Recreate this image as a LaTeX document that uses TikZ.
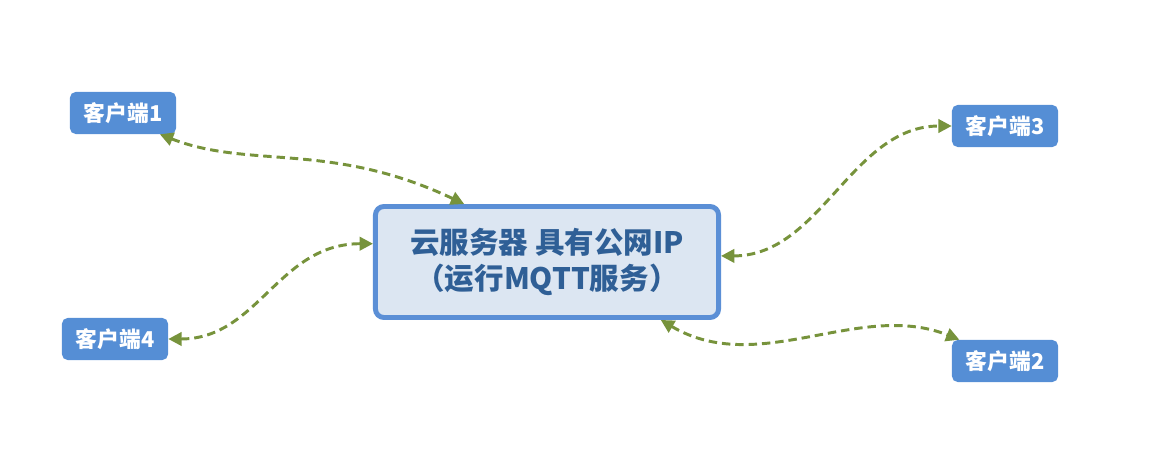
\documentclass[tikz,border=0pt]{standalone}
\usepackage{fontspec}
\setmainfont{Noto Sans CJK SC}
\usepackage{xcolor}
\usepackage{tikz}
\usetikzlibrary{arrows.meta}

\definecolor{clientblue}{HTML}{558ED5}
\definecolor{serverfill}{HTML}{DCE6F2}
\definecolor{serverline}{HTML}{5B8FD6}
\definecolor{servertext}{HTML}{2F5F96}
\definecolor{linkgreen}{HTML}{77933C}

\begin{document}
\begin{tikzpicture}[
    x=0.025cm, y=-0.025cm,
    client/.style={fill=clientblue, rounded corners=4pt, text=white, align=center, minimum width=2.65cm, minimum height=1.05cm, inner sep=0pt, font=\fontsize{15.5}{17}\selectfont\bfseries},
    server/.style={draw=serverline, line width=3.5pt, rounded corners=6pt, fill=serverfill, text=servertext, align=center, minimum width=8.575cm, minimum height=2.775cm, font=\fontsize{21}{26}\selectfont\bfseries},
    link/.style={{Triangle[length=9.5pt,width=9.5pt]}-{Triangle[length=9.5pt,width=9.5pt]}, draw=linkgreen, line width=2.1pt, dash pattern=on 6pt off 3.5pt}
]
\useasboundingbox (0,0) rectangle (1158,464);

\node[server] (cloud) at (547,262) {云服务器 具有公网IP\\（运行MQTT服务）};
\node[client] (c1) at (123,113) {客户端1};
\node[client] (c2) at (1005,361) {客户端2};
\node[client] (c3) at (1005,126) {客户端3};
\node[client] (c4) at (115,339) {客户端4};

\draw[link] (c1.-30) .. controls +(90,35) and +(-133,-63) .. (cloud.145);
\draw[link] (c4.east) .. controls +(90,0) and +(-95,0) .. (cloud.174);
\draw[link] (cloud.2) .. controls +(100,0) and +(-100,0) .. (c3.west);
\draw[link] (cloud.-27) .. controls +(98,58) and +(-100,-40) .. (c2.155);
\end{tikzpicture}
\end{document}
